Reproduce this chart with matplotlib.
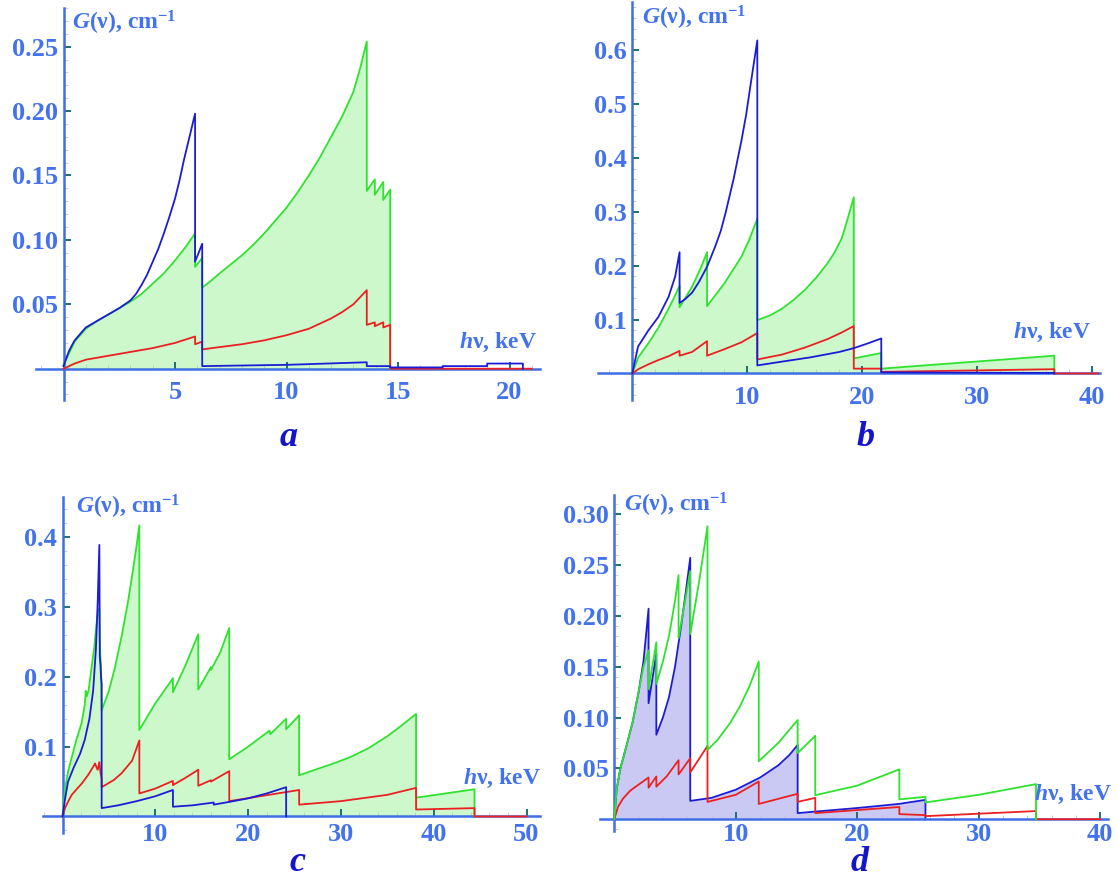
import numpy as np
import matplotlib
matplotlib.use("Agg")
import matplotlib.pyplot as plt
from matplotlib.ticker import FixedLocator, MultipleLocator

# absorption spectra G(nu), four cases; each curve is a list of (keV, cm^-1)
# points, a repeated x marks an absorption edge
a_blue = [(0, 0.002), (0.25, 0.014), (0.5, 0.022), (1.0, 0.032), (1.5, 0.037),
          (2.0, 0.042), (2.5, 0.047), (3.0, 0.053), (3.25, 0.058), (3.5, 0.065),
          (3.75, 0.073), (4.0, 0.083), (4.25, 0.093), (4.5, 0.105), (4.75, 0.118),
          (5.0, 0.132), (5.2, 0.146), (5.4, 0.162), (5.65, 0.18), (5.9, 0.198),
          (5.9, 0.083), (6.22, 0.097), (6.22, 0.002), (10.0, 0.003), (13.6, 0.005),
          (13.6, 0.002), (14.65, 0.002), (14.65, 0.001), (17.0, 0.001), (17.0, 0.002),
          (19.0, 0.002), (19.0, 0.004), (20.6, 0.004), (20.6, 0.0)]
a_green = [(0, 0.003), (0.25, 0.012), (0.5, 0.021), (1.0, 0.031), (1.5, 0.037),
           (2.0, 0.042), (2.5, 0.047), (3.0, 0.052), (3.5, 0.058), (4.0, 0.066),
           (4.5, 0.074), (5.0, 0.084), (5.5, 0.095), (5.9, 0.105), (5.9, 0.079),
           (6.22, 0.086), (6.22, 0.063), (6.6, 0.068), (7.0, 0.074), (7.5, 0.081),
           (8.0, 0.088), (8.5, 0.096), (9.0, 0.105), (9.5, 0.115), (10.0, 0.125),
           (10.5, 0.137), (11.0, 0.15), (11.5, 0.164), (12.0, 0.18), (12.5, 0.196),
           (13.0, 0.215), (13.3, 0.233), (13.6, 0.254),
           (13.6, 0.138), (13.96, 0.147), (13.96, 0.135), (14.34, 0.145), (14.34, 0.131),
           (14.65, 0.139), (14.65, 0.0)]
a_red = [(0, 0.0), (0.5, 0.004), (1.0, 0.007), (2.0, 0.010), (3.0, 0.013), (4.0, 0.016),
         (5.0, 0.020), (5.9, 0.025), (5.9, 0.019), (6.22, 0.021), (6.22, 0.015),
         (8.0, 0.019), (9.0, 0.022), (10.0, 0.026), (11.0, 0.031), (12.0, 0.039),
         (12.5, 0.044), (13.0, 0.050), (13.6, 0.061), (13.6, 0.034), (13.96, 0.036),
         (13.96, 0.033), (14.34, 0.036), (14.34, 0.032), (14.65, 0.034), (14.65, 0.0),
         (21.0, 0.0)]

b_blue = [(0, 0.0), (0.5, 0.05), (1.4, 0.08), (2.27, 0.105), (3.15, 0.142), (3.73, 0.18),
          (4.11, 0.225), (4.11, 0.131), (4.6, 0.138), (5.2, 0.15), (5.8, 0.17),
          (6.5, 0.198), (7.2, 0.235), (7.7, 0.265), (8.1, 0.297), (8.8, 0.36),
          (9.5, 0.433), (9.9, 0.48), (10.3, 0.538), (10.6, 0.58), (10.87, 0.618),
          (10.87, 0.015), (13.0, 0.022), (15.5, 0.030), (18.0, 0.040), (19.26, 0.047),
          (20.5, 0.056), (21.65, 0.065), (21.65, 0.002), (36.7, 0.001), (36.7, 0.0)]
b_green = [(0, 0.0), (0.52, 0.03), (1.4, 0.056), (2.27, 0.085), (3.15, 0.12), (3.73, 0.145),
           (4.11, 0.163), (4.11, 0.123), (5.2, 0.161), (6.0, 0.198), (6.5, 0.225),
           (6.5, 0.125), (8.0, 0.167), (9.5, 0.217), (10.2, 0.25), (10.87, 0.287),
           (10.87, 0.099), (12.0, 0.108), (13.0, 0.12), (14.0, 0.136), (15.0, 0.155),
           (16.0, 0.178), (17.0, 0.205), (17.6, 0.225), (18.2, 0.25), (18.7, 0.285),
           (19.26, 0.327), (19.26, 0.028), (21.65, 0.038), (21.65, 0.009), (36.7, 0.033),
           (36.7, 0.0)]
b_red = [(0, 0.0), (0.52, 0.008), (1.4, 0.017), (2.27, 0.025), (3.15, 0.032), (4.11, 0.042),
         (4.11, 0.033), (5.2, 0.04), (6.5, 0.06), (6.5, 0.033), (8.0, 0.045), (9.5, 0.058),
         (10.87, 0.075), (10.87, 0.026), (13.0, 0.035), (15.0, 0.048), (17.0, 0.064),
         (18.2, 0.076), (19.26, 0.088), (19.26, 0.009), (21.65, 0.009), (21.65, 0.003),
         (36.7, 0.008), (36.7, 0.0), (40.5, 0.0)]

c_blue = [(0, 0.0), (0.27, 0.025), (0.6, 0.05), (1.2, 0.07), (1.9, 0.09), (2.4, 0.11),
          (2.9, 0.14), (3.3, 0.18), (3.6, 0.24), (3.8, 0.31), (3.97, 0.389), (4.02, 0.23),
          (4.1, 0.215), (4.15, 0.2), (4.22, 0.19), (4.22, 0.012), (6.0, 0.016), (8.0, 0.022),
          (10.0, 0.029), (11.9, 0.038), (11.9, 0.014), (14.0, 0.016), (16.3, 0.02),
          (16.3, 0.017), (18.0, 0.021), (20.0, 0.026), (22.0, 0.033), (24.1, 0.042),
          (24.1, 0.0)]
c_green = [(0, 0.0), (0.27, 0.04), (0.63, 0.066), (1.0, 0.085), (1.5, 0.11), (2.06, 0.134),
           (2.4, 0.16), (2.5, 0.18), (2.6, 0.172), (2.8, 0.18), (3.1, 0.21), (3.4, 0.24),
           (3.7, 0.28), (3.8, 0.29), (3.97, 0.298), (4.0, 0.26), (4.1, 0.225), (4.15, 0.215),
           (4.22, 0.152), (5.0, 0.18), (5.66, 0.214), (6.4, 0.26), (7.09, 0.31),
           (7.5, 0.345), (7.9, 0.38), (8.28, 0.417),
           (8.28, 0.124), (10.0, 0.162), (11.9, 0.198), (11.9, 0.178), (13.2, 0.215),
           (14.63, 0.261), (14.63, 0.182), (16.0, 0.214), (16.0, 0.21), (17.0, 0.235),
           (17.97, 0.27), (17.97, 0.082), (20.0, 0.1), (22.3, 0.123), (22.4, 0.118),
           (24.1, 0.14), (24.1, 0.125), (25.5, 0.145), (25.5, 0.059), (27.0, 0.066),
           (29.0, 0.075), (31.0, 0.085), (33.0, 0.098), (35.0, 0.115), (36.5, 0.13),
           (38.1, 0.147), (38.1, 0.027), (44.4, 0.039), (44.4, 0.0)]
c_red = [(0, 0.0), (0.27, 0.012), (0.63, 0.022), (0.99, 0.031), (2.06, 0.047), (2.79, 0.06),
         (3.43, 0.074), (3.5, 0.076), (3.68, 0.07), (3.79, 0.067), (3.97, 0.078),
         (4.1, 0.062), (4.22, 0.055), (4.22, 0.042), (5.5, 0.052), (6.37, 0.062),
         (7.5, 0.08), (8.28, 0.109), (8.28, 0.033), (10.0, 0.04), (11.9, 0.051),
         (11.9, 0.045), (13.2, 0.055), (14.63, 0.067), (14.63, 0.044), (16.0, 0.052),
         (16.0, 0.05), (17.97, 0.065), (17.97, 0.022), (24.1, 0.035), (25.5, 0.038),
         (25.5, 0.017), (30.0, 0.022), (35.0, 0.031), (38.1, 0.041), (38.1, 0.01),
         (44.4, 0.012), (44.4, 0.0), (50.0, 0.0)]

d_blue = [(0, 0.0), (0.2, 0.03), (0.5, 0.05), (1.0, 0.072), (1.5, 0.095), (2.0, 0.125),
          (2.4, 0.155), (2.82, 0.207), (2.82, 0.114), (3.46, 0.163), (3.46, 0.083),
          (4.0, 0.1), (4.5, 0.12), (5.0, 0.15), (5.5, 0.19), (5.9, 0.225), (6.25, 0.257),
          (6.25, 0.018), (8.0, 0.021), (10.0, 0.029), (12.0, 0.041), (13.5, 0.053),
          (14.4, 0.063), (15.09, 0.073), (15.09, 0.006), (20.0, 0.011), (23.4, 0.015),
          (25.61, 0.019), (25.61, 0.0)]
d_green = [(0, 0.0), (0.2, 0.03), (0.5, 0.05), (1.0, 0.072), (1.5, 0.095), (2.0, 0.125),
           (2.4, 0.15), (2.82, 0.166), (2.82, 0.128), (3.46, 0.174), (3.46, 0.133),
           (4.0, 0.155), (4.5, 0.18), (5.0, 0.215), (5.29, 0.24), (5.29, 0.178),
           (6.25, 0.244), (6.25, 0.182), (7.0, 0.235), (7.67, 0.288), (7.67, 0.068),
           (8.5, 0.078), (9.5, 0.094), (10.3, 0.11), (11.1, 0.13), (11.89, 0.155),
           (11.89, 0.057), (13.5, 0.075), (15.09, 0.0975), (15.09, 0.065), (16.54, 0.082),
           (16.54, 0.0236), (20.0, 0.033), (23.46, 0.049), (23.46, 0.0195), (25.61, 0.022),
           (25.61, 0.0165), (30.0, 0.024), (34.71, 0.0345), (34.71, 0.0)]
d_red = [(0, 0.0), (0.3, 0.012), (0.7, 0.02), (1.3, 0.028), (2.0, 0.034), (2.82, 0.041),
         (2.82, 0.031), (3.46, 0.042), (3.46, 0.032), (4.3, 0.042), (5.29, 0.058),
         (5.29, 0.044), (6.25, 0.06), (6.25, 0.046), (7.67, 0.072), (7.67, 0.017),
         (10.0, 0.024), (11.89, 0.037), (11.89, 0.015), (15.09, 0.025), (15.09, 0.017),
         (16.54, 0.021), (16.54, 0.006), (23.46, 0.012), (23.46, 0.005), (25.61, 0.004),
         (25.61, 0.003), (34.71, 0.008), (34.71, 0.0), (40.0, 0.0)]

a_xticks = [5, 10, 15, 20]
a_yticks = [0.05, 0.10, 0.15, 0.20, 0.25]
b_xticks = [10, 20, 30, 40]
b_yticks = [0.1, 0.2, 0.3, 0.4, 0.5, 0.6]
c_xticks = [10, 20, 30, 40, 50]
c_yticks = [0.1, 0.2, 0.3, 0.4]
d_xticks = [10, 20, 30, 40]
d_yticks = [0.05, 0.10, 0.15, 0.20, 0.25, 0.30]

BLUE = "#1c1cd6"
GREEN = "#2ee22e"
RED = "#ec2020"
GREEN_FILL = "#ccf8cc"
BLUE_FILL = "#c9c9f3"
AXIS = "#3f6fe6"
LABEL = "#4272ee"
TICK = "#1f6f6f"
LETTER = "#1414cc"

W, H = 1117, 880

plt.rcParams["font.family"] = ["Liberation Serif", "DejaVu Serif"]
plt.rcParams["font.weight"] = "bold"
plt.rcParams["mathtext.fontset"] = "custom"
plt.rcParams["mathtext.rm"] = "Liberation Serif:bold"
plt.rcParams["mathtext.it"] = "Liberation Serif:italic:bold"
plt.rcParams["mathtext.bf"] = "Liberation Serif:bold"

fig = plt.figure(figsize=(W / 100, H / 100), dpi=100)


def make_axes(x0, y0, sx, sy, xlim, ylim):
    # x0, y0: pixel position of the origin; sx, sy: pixels per data unit
    left = x0 + xlim[0] * sx
    right = x0 + xlim[1] * sx
    top = y0 - ylim[1] * sy
    bottom = y0 - ylim[0] * sy
    ax = fig.add_axes([left / W, 1 - bottom / H, (right - left) / W, (bottom - top) / H])
    ax.set_xlim(xlim)
    ax.set_ylim(ylim)
    ax.patch.set_alpha(0)
    return ax


def style(ax, xt, yt, xminor, yminor, yfmt, xpad):
    for s in ("top", "right"):
        ax.spines[s].set_visible(False)
    for s in ("left", "bottom"):
        ax.spines[s].set_position(("data", 0))
        ax.spines[s].set_color(AXIS)
        ax.spines[s].set_linewidth(1.8)
    ax.xaxis.set_major_locator(FixedLocator(xt))
    ax.yaxis.set_major_locator(FixedLocator(yt))
    ax.xaxis.set_minor_locator(MultipleLocator(xminor))
    ax.yaxis.set_minor_locator(MultipleLocator(yminor))
    ax.set_xticklabels([str(v) for v in xt])
    ax.set_yticklabels([yfmt % v for v in yt])
    ax.tick_params(which="major", direction="in", length=5, width=1.4, color=TICK,
                   labelcolor=LABEL, labelsize=19)
    ax.tick_params(axis="x", which="major", pad=xpad)
    ax.tick_params(axis="y", which="major", pad=4)
    ax.tick_params(which="minor", direction="in", length=3, width=0.6, color="#c4c4c4")


def draw(ax, pts, color, fill=None, z=3):
    x, y = np.array(pts).T
    if fill:
        ax.fill_between(x, y, 0, color=fill, lw=0, zorder=1)
    ax.plot(x, y, color=color, lw=1.3, zorder=z, clip_on=False)


def text_px(x, y, s, size=17, **kw):
    fig.text(x / W, 1 - y / H, s, fontsize=size, color=kw.pop("color", LABEL), **kw)


# a
ax = make_axes(63.5, 368.7, 22.3, 1288, (-1.24, 21.35), (-0.024, 0.28))
style(ax, a_xticks, a_yticks, 1, 0.01, "%.2f", 9)
draw(ax, a_green, GREEN, GREEN_FILL)
draw(ax, a_red, RED)
draw(ax, a_blue, BLUE)

# b
ax = make_axes(632.3, 373.5, 11.5, 539, (-3.0, 40.7), (-0.05, 0.69))
style(ax, b_xticks, b_yticks, 2, 0.02, "%.1f", 9)
draw(ax, b_green, GREEN, GREEN_FILL)
draw(ax, b_red, RED)
draw(ax, b_blue, BLUE)

# c
ax = make_axes(62.5, 816.5, 9.28, 698, (-2.07, 51.45), (-0.024, 0.458))
style(ax, c_xticks, c_yticks, 2, 0.02, "%.1f", 5)
draw(ax, c_green, GREEN, GREEN_FILL)
draw(ax, c_red, RED)
draw(ax, c_blue, BLUE)

# d
ax = make_axes(614.3, 819.2, 12.15, 1017, (-1.2, 40.6), (-0.012, 0.319))
style(ax, d_xticks, d_yticks, 2, 0.01, "%.2f", 3)
draw(ax, d_blue, BLUE, BLUE_FILL, z=2)
draw(ax, d_red, RED)
draw(ax, d_green, GREEN)

g_label = r"$G$(ν), cm$^{-1}$"
h_label = r"$h$ν, keV"
# panel letters are placed by their baseline
for gx, gy, hx, hy, lx, ly, letter in [(72, 23, 537, 342, 289, 446, "a"),
                                       (642, 18, 1091, 332, 866, 446, "b"),
                                       (76, 507, 541, 778, 297, 871, "c"),
                                       (624, 505, 1112, 794, 860, 871, "d")]:
    text_px(gx, gy, g_label, ha="left", va="center")
    text_px(hx, hy, h_label, ha="right", va="center")
    text_px(lx, ly, letter, size=26, ha="center", va="baseline", style="italic",
            color=LETTER)

fig.savefig("out.png", dpi=100)
